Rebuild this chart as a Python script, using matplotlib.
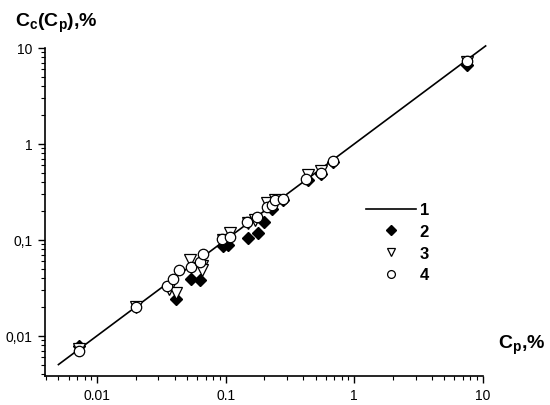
import matplotlib
matplotlib.use("Agg")
from matplotlib import pyplot as plt
from matplotlib.ticker import LogLocator, FixedLocator, FixedFormatter, NullFormatter

plt.rcParams['font.family'] = ['Liberation Sans', 'DejaVu Sans']
plt.rcParams['mathtext.fontset'] = 'custom'
plt.rcParams['mathtext.rm'] = 'Liberation Sans'
plt.rcParams['mathtext.bf'] = 'Liberation Sans:bold'

# line 1: Cc = Cp
line_x = [0.005, 10.5]

# series 2 (filled diamonds)
x2 = [0.0072, 0.041, 0.054, 0.063, 0.095, 0.105, 0.15, 0.178, 0.20, 0.23, 0.28, 0.44, 0.55, 0.68, 7.5]
y2 = [0.0078, 0.024, 0.039, 0.038, 0.086, 0.088, 0.104, 0.118, 0.155, 0.21, 0.26, 0.42, 0.48, 0.65, 6.7]

# series 3 (open triangles)
x3 = [0.0072, 0.02, 0.036, 0.041, 0.053, 0.065, 0.065, 0.095, 0.108, 0.15, 0.17, 0.21, 0.24, 0.44, 0.55, 7.5]
y3 = [0.0073, 0.02, 0.031, 0.028, 0.062, 0.053, 0.048, 0.10, 0.118, 0.15, 0.16, 0.24, 0.26, 0.47, 0.52, 7.2]

# series 4 (open circles)
x4 = [0.0072, 0.02, 0.035, 0.039, 0.043, 0.054, 0.063, 0.067, 0.093, 0.108, 0.146, 0.174,
      0.21, 0.227, 0.242, 0.28, 0.42, 0.55, 0.68, 7.5]
y4 = [0.0070, 0.02, 0.033, 0.039, 0.048, 0.052, 0.059, 0.0715, 0.102, 0.106, 0.153, 0.172,
      0.22, 0.228, 0.258, 0.267, 0.43, 0.50, 0.67, 7.4]

x_ticks = [0.01, 0.1, 1, 10]
x_labels = ["0.01", "0.1", "1", "10"]
y_ticks = [0.01, 0.1, 1, 10]
y_labels = ["0,01", "0,1", "1", "10"]

fig = plt.figure(figsize=(5.5, 4.06), dpi=100)
ax = fig.add_axes([0.081, 0.0714, 0.797, 0.808])

ax.plot(line_x, line_x, color="black", lw=1.2, label="1", zorder=1, clip_on=False)
ax.plot(x2, y2, ls="none", marker="D", ms=6.5, mfc="black", mec="black", label="2", zorder=2)
ax.plot(x3, y3, ls="none", marker="v", ms=8, mfc="white", mec="black", mew=0.9, label="3", zorder=3)
ax.plot(x4, y4, ls="none", marker="o", ms=7.5, mfc="white", mec="black", mew=0.9, label="4", zorder=4)

ax.set_xscale("log")
ax.set_yscale("log")
ax.set_xlim(0.0039, 10)
ax.set_ylim(0.0038, 10)

ax.xaxis.set_major_locator(FixedLocator(x_ticks))
ax.xaxis.set_major_formatter(FixedFormatter(x_labels))
ax.yaxis.set_major_locator(FixedLocator(y_ticks))
ax.yaxis.set_major_formatter(FixedFormatter(y_labels))
ax.xaxis.set_minor_locator(LogLocator(base=10, subs=range(2, 10)))
ax.yaxis.set_minor_locator(LogLocator(base=10, subs=range(2, 10)))
ax.xaxis.set_minor_formatter(NullFormatter())
ax.yaxis.set_minor_formatter(NullFormatter())

ax.spines["top"].set_visible(False)
ax.spines["right"].set_visible(False)
for s in ("left", "bottom"):
    ax.spines[s].set_linewidth(1.2)
ax.tick_params(which="major", direction="out", length=5, width=1, labelsize=10, color="black")
ax.tick_params(which="minor", direction="out", length=3, width=0.8)

fig.text(0.027, 0.915, r"$\mathbf{C_c(C_p){,}\%}$", fontsize=14, ha="left", va="bottom")
fig.text(0.905, 0.15, r"$\mathbf{C_p{,}\%}$", fontsize=14, ha="left", va="center")

leg = ax.legend(loc="upper left", bbox_to_anchor=(0.7, 0.575), frameon=False,
                handlelength=3, handletextpad=0.2, labelspacing=0.4, markerscale=0.75,
                prop={"weight": "bold", "size": 12})

fig.savefig("out.png", dpi=100)
